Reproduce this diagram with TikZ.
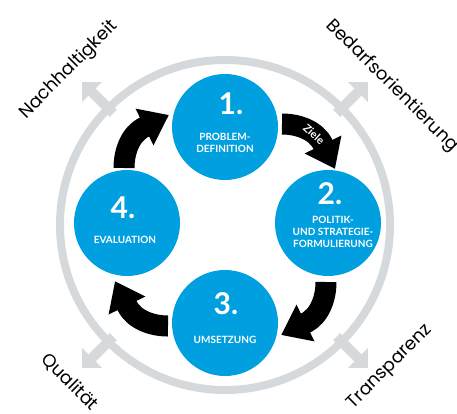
\documentclass[tikz,border=0pt]{standalone}
\usepackage{fontspec}
\setmainfont{Lato}
\newfontfamily\labelfont{Poppins}
\usetikzlibrary{arrows.meta}
\definecolor{cblue}{RGB}{0,159,223}
\definecolor{cgray}{RGB}{214,217,219}
\begin{document}
\begin{tikzpicture}[x=1pt,y=-1pt,
  blob/.style={circle, fill=cblue, minimum size=106pt, inner sep=0pt},
  num/.style={text=white, inner sep=0pt, font=\fontsize{30}{30}\selectfont\bfseries},
  capt/.style={text=white, inner sep=0pt, align=center, font=\fontsize{10}{11.8}\selectfont\bfseries},
  outer/.style={inner sep=0pt, font=\labelfont\fontsize{18}{18}\selectfont},
  ring/.style={draw=cgray, line width=8pt},
  gshaft/.style={draw=cgray, line width=10pt},
  bshaft/.style={draw=black, line width=21pt},
]
\useasboundingbox (0,0) rectangle (457,413);
\coordinate (c) at (225,225);
\draw[ring] (c) circle[radius=165];
% gray outward arrows
\foreach \a in {45,135,-45,-135} {
  \begin{scope}[shift={(c)}, rotate=\a]
    \coordinate (gs) at (158,0);
    \coordinate (ge) at (190,0);
    \draw[gshaft] (gs) -- (ge);
    \fill[cgray] (188,-14) -- (202,0) -- (188,14) -- cycle;
  \end{scope}
}
% black cycle arrows
\foreach \r in {0,-90,-180,-270} {
  \begin{scope}[shift={(c)}, rotate=\r]
    \coordinate (bt) at (-101,-57);
    \coordinate (bm) at (-80.5,-98);
    \draw[bshaft] (bt) .. controls (-101,-73) and (-94.9,-91) .. (bm) -- ++(0.9,-0.44);
    \fill (-89.5,-116.4) -- (-56.3,-109.9) -- (-71.5,-79.6) -- cycle;
  \end{scope}
}
% blue circles
\node[blob] (p1) at (225,127) {};
\node[blob] (p2) at (328,223) {};
\node[blob] (p3) at (225,323) {};
\node[blob] (p4) at (127,223) {};
% texts in circles
\node[num] (n1) at (231,104) {1.};
\node[capt] (t1) at (225,142.5) {PROBLEM-\\DEFINITION};
\node[num] (n2) at (330,194) {2.};
\node[capt] (t2) at (333,232) {POLITIK-\\UND STRATEGIE-\\FORMULIERUNG};
\node[num] (n3) at (226,304) {3.};
\node[capt] (t3) at (225,340) {UMSETZUNG};
\node[num] (n4) at (123,208) {4.};
\node[capt] (t4) at (125,240) {EVALUATION};
% Ziele
\node[text=white, inner sep=0pt, rotate=-42, font=\fontsize{11}{11}\selectfont\bfseries] (z) at (314,134) {Ziele};
% outer labels
\node[outer, rotate=45] (l1) at (69,70) {Nachhaltigkeit};
\node[outer, rotate=-45] (l2) at (392,86) {Bedarfsorientierung};
\node[outer, rotate=45] (l3) at (390,367) {Transparenz};
\node[outer, rotate=-45] (l4) at (70,382) {Qualität};
\end{tikzpicture}
\end{document}
